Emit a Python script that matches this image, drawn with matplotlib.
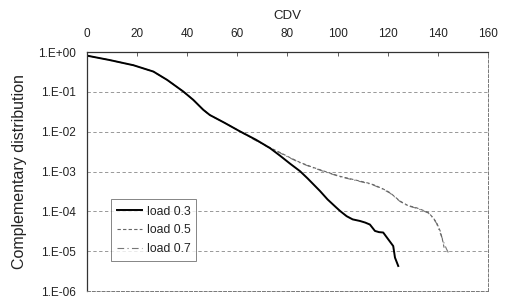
import matplotlib
matplotlib.use("Agg")
import math
import matplotlib.pyplot as plt
from matplotlib.ticker import FixedLocator, FuncFormatter, NullLocator

plt.rcParams['font.family'] = ['Liberation Sans', 'DejaVu Sans']

# values (x = CDV, y = log10 of complementary distribution)
x_03 = [0, 9, 18.5, 26.5, 32, 38.4, 42.4, 46.4, 49, 55, 61, 67.4, 73, 77, 81, 85,
        88, 93, 96, 99.6, 101, 103.6, 106, 108.9, 111, 112.9, 114.9, 116.5, 118.2,
        120.2, 122.2, 122.9, 124.2]
y_03 = [-0.09, -0.2, -0.33, -0.49, -0.7, -0.99, -1.2, -1.45, -1.58, -1.78, -1.99, -2.2,
        -2.41, -2.6, -2.8, -2.99, -3.17, -3.49, -3.7, -3.91, -3.99, -4.12, -4.2, -4.24,
        -4.28, -4.33, -4.49, -4.52, -4.53, -4.7, -4.87, -5.16, -5.37]

x_05 = [0, 9, 18.5, 26.5, 32, 38.4, 42.4, 46.4, 49, 55, 61, 67, 72, 77, 81, 85, 90,
        95.6, 101, 107, 112.3, 114.3, 118, 120.9, 124.9, 128, 131.5, 134, 136.2, 138,
        139.5, 141, 142, 142.5]
y_05 = [-0.09, -0.2, -0.33, -0.49, -0.7, -0.99, -1.2, -1.45, -1.58, -1.78, -1.99, -2.2,
        -2.37, -2.52, -2.65, -2.77, -2.89, -3.01, -3.12, -3.21, -3.29, -3.33, -3.43,
        -3.53, -3.74, -3.85, -3.91, -3.97, -4.03, -4.15, -4.28, -4.5, -4.75, -4.91]

x_07 = [0, 9, 18.5, 26.5, 32, 38.4, 42.4, 46.4, 49, 55, 61, 67, 72, 77, 81, 85, 90,
        95.6, 101, 107, 112.3, 114.3, 118, 120.9, 124.9, 128, 131.5, 134, 136.2, 138,
        139.5, 141, 142.5, 143.5, 144.6]
y_07 = [-0.09, -0.2, -0.33, -0.49, -0.7, -0.99, -1.2, -1.45, -1.58, -1.78, -1.99, -2.21,
        -2.38, -2.53, -2.66, -2.78, -2.9, -3.02, -3.13, -3.22, -3.3, -3.34, -3.44,
        -3.54, -3.75, -3.86, -3.92, -3.98, -4.04, -4.16, -4.3, -4.55, -4.8, -4.95, -5.08]

series = ["load 0.3", "load 0.5", "load 0.7"]
x_ticks = [0, 20, 40, 60, 80, 100, 120, 140, 160]
y_ticks = [1e0, 1e-1, 1e-2, 1e-3, 1e-4, 1e-5, 1e-6]

fig = plt.figure(figsize=(5.12, 3.01), dpi=100)
ax = fig.add_axes([0.17, 0.033, 0.783, 0.794])

ax.plot(x_07, [10 ** v for v in y_07], color="#777777", lw=0.8, ls=(0, (6, 3, 1, 3)), label=series[2])
ax.plot(x_05, [10 ** v for v in y_05], color="#666666", lw=0.8, ls=(0, (3, 2)), label=series[1])
ax.plot(x_03, [10 ** v for v in y_03], color="black", lw=1.4, label=series[0])

ax.set_yscale("log")
ax.set_xlim(0, 160)
ax.set_ylim(1e-6, 1)
ax.yaxis.set_major_locator(FixedLocator(y_ticks))
ax.yaxis.set_minor_locator(NullLocator())
ax.yaxis.set_major_formatter(FuncFormatter(lambda v, p: "1.E%+03d" % round(math.log10(v))))
ax.set_xticks(x_ticks)
ax.xaxis.tick_top()
ax.xaxis.set_label_position("top")
ax.tick_params(axis="both", direction="in", length=3, width=0.6, labelsize=8.5,
               labelcolor="#222222", color="#444444")
ax.tick_params(axis="y", length=0, pad=8)
ax.tick_params(axis="x", pad=9)

ax.set_xlabel("CDV", fontsize=9.5, color="#222222", labelpad=6)
ax.set_ylabel("Complementary distribution", fontsize=11.5, color="#222222", labelpad=8)

ax.grid(axis="y", color="#888888", lw=0.6, ls=(0, (4, 3)))
for side in ["left", "top"]:
    ax.spines[side].set_color("#333333")
    ax.spines[side].set_linewidth(0.9)
for side in ["right", "bottom"]:
    ax.spines[side].set_color("#777777")
    ax.spines[side].set_linewidth(0.7)
    ax.spines[side].set_linestyle((0, (3, 2)))

handles, labels = ax.get_legend_handles_labels()
leg = ax.legend(handles[::-1], labels[::-1], loc="lower left", bbox_to_anchor=(0.045, 0.1),
                fontsize=8.8, frameon=True, fancybox=False, handlelength=2.0,
                borderpad=0.5, labelspacing=0.55, handletextpad=0.4)
leg.get_frame().set_edgecolor("#666666")
leg.get_frame().set_linewidth(0.7)
for t in leg.get_texts():
    t.set_color("#222222")

fig.savefig("out.png", dpi=100)
